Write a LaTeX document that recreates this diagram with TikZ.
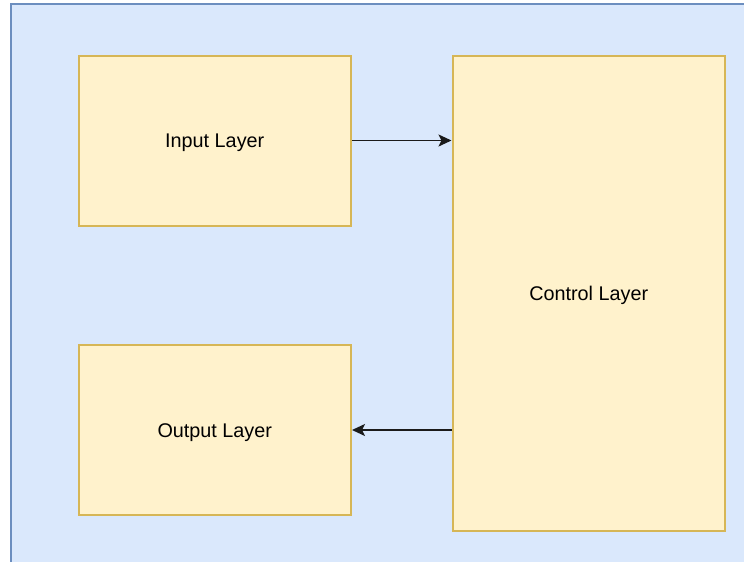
\documentclass[tikz,border=0pt]{standalone}
\usepackage{fontspec}
\setmainfont{Liberation Sans}
\usetikzlibrary{arrows.meta}
\definecolor{panelfill}{HTML}{DAE8FC}
\definecolor{panelline}{HTML}{6C8EBF}
\definecolor{boxfill}{HTML}{FFF2CC}
\definecolor{boxline}{HTML}{D6B656}
\definecolor{wire}{HTML}{1A1A1A}
\tikzset{
  layerbox/.style={draw=boxline, fill=boxfill, line width=2pt,
    anchor=north west, inner sep=0pt, text height=18pt, text depth=4pt,
    font=\fontsize{19.8}{23}\selectfont},
  link/.style={draw=wire, line width=1.7pt,
    -{Stealth[length=13pt,width=12pt,inset=3pt]}}
}
\begin{document}
\begin{tikzpicture}[x=1pt,y=-1pt]
  \useasboundingbox (0,0) rectangle (744,562);
  \begin{scope}
    \clip (0,0) rectangle (744,562);
    \draw[draw=panelline, fill=panelfill, line width=2pt]
      (10.5,3.5) rectangle (760,580);
  \end{scope}
  \node[layerbox, minimum width=272.5pt, minimum height=170pt]
    (input) at (77.5,54.5) {Input Layer};
  \node[layerbox, minimum width=272.5pt, minimum height=170pt]
    (output) at (77.5,344) {Output Layer};
  \node[layerbox, minimum width=272.5pt, minimum height=475.5pt]
    (control) at (451.5,54.5) {Control Layer};
  \draw[link] (input.east) -- (input.east -| control.west);
  \draw[link] (output.east -| control.west) -- (output.east);
\end{tikzpicture}
\end{document}
